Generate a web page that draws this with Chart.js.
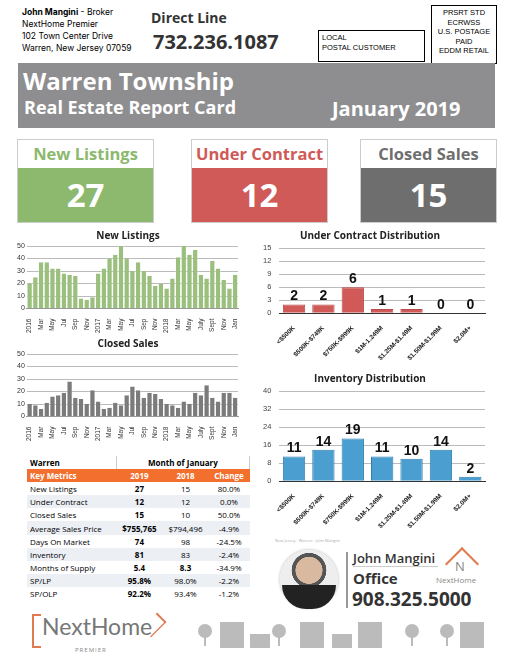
<!DOCTYPE html>
<html><head><meta charset="utf-8">
<script src="https://cdn.jsdelivr.net/npm/chart.js@4.4.1/dist/chart.umd.min.js"></script>
<style>
body{margin:0;width:510px;height:660px;background:#fff;font-family:"Open Sans",sans-serif;position:relative;overflow:hidden}
.a{position:absolute}
.box{border:1px solid #000;font-family:"Liberation Sans",Arial;font-size:7.5px;line-height:9.5px}
.card{position:absolute;top:139px;width:135px;height:82px;border:1px solid #ccc}
.card .t{height:28px;text-align:center;font-weight:700;font-size:16.5px;line-height:28px;background:#fff}
.card .v{height:54px;text-align:center;color:#fff;font-weight:700;font-size:33px;line-height:54px}
table{border-collapse:collapse;font-size:8px;font-family:"Open Sans";width:223px}
td{padding:0 3px;height:13.1px}
td.c{text-align:center}
tr.g td{background:#eceff4}
</style></head><body>
<div class="a" style="left:22px;top:6px;font-size:8.5px;line-height:12px;font-family:'Inter','Liberation Sans'"><b>John Mangini</b> - Broker<br>NextHome Premier<br>102 Town Center Drive<br>Warren, New Jersey 07059</div>
<div class="a" style="left:151px;top:8px;font-size:14px;font-weight:700;color:#333">Direct Line</div>
<div class="a" style="left:153px;top:28px;font-size:20px;font-weight:700;color:#333">732.236.1087</div>
<div class="a box" style="left:318px;top:30px;width:102px;height:28px;padding:2px 0 0 3px">LOCAL<br>POSTAL CUSTOMER</div>
<div class="a box" style="left:431px;top:5px;width:64px;height:55px;text-align:center;padding-top:2px">PRSRT STD<br>ECRWSS<br>U.S. POSTAGE<br>PAID<br>EDDM RETAIL</div>
<div class="a" style="left:18px;top:63px;width:477px;height:65px;background:#8e8e90"></div>
<div class="a" style="left:23px;top:64px;font-size:24px;font-weight:700;color:#fff">Warren Township</div>
<div class="a" style="left:24px;top:95px;font-size:18px;font-weight:700;color:#fff">Real Estate Report Card</div>
<div class="a" style="left:332px;top:95px;font-size:20px;font-weight:700;color:#fff">January 2019</div>
<div class="card" style="left:17px"><div class="t" style="color:#8cb96e">New Listings</div><div class="v" style="background:#8cb96e">27</div></div>
<div class="card" style="left:191px"><div class="t" style="color:#cf5a57">Under Contract</div><div class="v" style="background:#cf5a57">12</div></div>
<div class="card" style="left:360px"><div class="t" style="color:#6e6e6e">Closed Sales</div><div class="v" style="background:#6e6e6e">15</div></div>

<div class="a" style="left:15px;top:230px;width:230px;height:105px"><canvas id="c1"></canvas></div>
<div class="a" style="left:15px;top:338px;width:230px;height:105px"><canvas id="c2"></canvas></div>
<div class="a" style="left:255px;top:230px;width:250px;height:135px"><canvas id="c3"></canvas></div>
<div class="a" style="left:255px;top:373px;width:250px;height:160px"><canvas id="c4"></canvas></div>
<div class="a" style="left:275px;top:538px;font-size:4px;color:#aaa">New Jersey · Warren · John Mangini</div>

<div class="a" style="left:27px;top:456px">
<table>
<tr><td style="font-weight:700;height:13px">Warren</td><td colspan="3" class="c" style="font-weight:700;border-left:1px solid #ccc;border-right:1px solid #ccc">Month of January</td></tr>
<tr style="background:#f26f2e;color:#fff;font-weight:700"><td>Key Metrics</td><td class="c">2019</td><td class="c">2018</td><td class="c">Change</td></tr>
<tr><td>New Listings</td><td class="c"><b>27</b></td><td class="c">15</td><td class="c">80.0%</td></tr>
<tr class="g"><td>Under Contract</td><td class="c"><b>12</b></td><td class="c">12</td><td class="c">0.0%</td></tr>
<tr><td>Closed Sales</td><td class="c"><b>15</b></td><td class="c">10</td><td class="c">50.0%</td></tr>
<tr class="g"><td>Average Sales Price</td><td class="c"><b>$755,765</b></td><td class="c">$794,496</td><td class="c">-4.9%</td></tr>
<tr><td>Days On Market</td><td class="c"><b>74</b></td><td class="c">98</td><td class="c">-24.5%</td></tr>
<tr class="g"><td>Inventory</td><td class="c"><b>81</b></td><td class="c">83</td><td class="c">-2.4%</td></tr>
<tr><td>Months of Supply</td><td class="c"><b>5.4</b></td><td class="c"><b>8.3</b></td><td class="c">-34.9%</td></tr>
<tr class="g"><td>SP/LP</td><td class="c"><b>95.8%</b></td><td class="c">98.0%</td><td class="c">-2.2%</td></tr>
<tr><td>SP/OLP</td><td class="c"><b>92.2%</b></td><td class="c">93.4%</td><td class="c">-1.2%</td></tr>
</table></div>

<div class="a" style="left:280px;top:550px;width:58px;height:58px;border-radius:50%;background:radial-gradient(circle at 50% 35%,#d9b9a0 0 28%,#555 29% 36%,#eee 37%);box-shadow:0 0 3px #aaa"></div>
<div class="a" style="left:282px;top:585px;width:54px;height:24px;border-radius:0 0 27px 27px;background:#222"></div>
<div class="a" style="left:346px;top:552px;width:2px;height:56px;background:#999"></div>
<div class="a" style="left:353px;top:549px;font-size:13px;font-weight:600;color:#333">John Mangini</div>
<div class="a" style="left:353px;top:566px;width:85px;height:1px;background:#ccc"></div>
<div class="a" style="left:353px;top:568px;font-size:15px;font-weight:700;color:#333">Office</div>
<div class="a" style="left:352px;top:586px;font-size:19px;font-weight:700;color:#333">908.325.5000</div>
<div class="a" style="width:22px;height:22px;border-top:2px solid #e07a4f;border-left:2px solid #e07a4f;transform:rotate(45deg);top:552px;left:450px"></div>
<div class="a" style="left:455px;top:557px;font-size:13px;color:#888">N</div>
<div class="a" style="left:436px;top:574px;font-size:8px;color:#888">NextHome</div>

<div class="a" style="left:32px;top:614px;width:7px;height:30px;border:2px solid #e07a4f;border-right:none"></div>
<div class="a" style="left:42px;top:612px;font-size:23px;color:#777;font-family:'Lato'">NextHome</div>
<div class="a" style="left:143px;top:614px;width:20px;height:20px;border-top:2px solid #e07a4f;border-right:2px solid #e07a4f;transform:rotate(45deg) scaleX(0.6)"></div>
<div class="a" style="left:75px;top:646px;font-size:6px;color:#888;letter-spacing:1px">PREMIER</div>
<div id="houses"></div>

<script>
const months=["2016","","Mar","","May","","Jul","","Sep","","Nov","","2017","","Mar","","May","","Jul","","Sep","","Nov","","2018","","Mar","","May","","July","","Sept","","Nov","","Jan"];
const newListings=[20,25,37,37,32,32,28,27,26,8,7,9,28,32,40,43,50,40,30,37,30,26,18,20,16,24,41,50,43,47,27,24,38,32,23,16,27];
const closedSales=[10,9,6,11,16,17,19,28,15,14,10,21,12,6,7,11,9,17,24,21,15,19,18,14,10,9,7,12,10,19,17,25,15,12,19,19,15];
const priceRanges=["<$500K","$500K-$749K","$750K-$999K","$1M-1.249M","$1.25M-$1.49M","$1.50M-$1.99M","$2.0M+"];
const underContract=[2,2,6,1,1,0,0];
const inventory=[11,14,19,11,10,14,2];

const F="'Open Sans'";
function small(id,data,color,title){
 new Chart(document.getElementById(id),{type:'bar',
  data:{labels:months,datasets:[{data,backgroundColor:color,borderColor:'#fff',borderWidth:{left:0.5,right:0.5},categoryPercentage:1,barPercentage:0.92}]},
  options:{responsive:true,maintainAspectRatio:false,animation:false,
   layout:{padding:{right:4}},
   plugins:{legend:{display:false},title:{display:true,text:title,font:{family:F,size:10,weight:'bold'},color:'#222',padding:{top:0,bottom:4}}},
   scales:{y:{min:0,max:50,ticks:{stepSize:10,font:{size:7},color:'#333',padding:2},border:{display:false},grid:{color:'#bbb',drawTicks:false}},
    x:{ticks:{autoSkip:false,maxRotation:90,minRotation:90,font:{size:6.5},color:'#333',padding:2},grid:{display:false},border:{color:'#999'}}}}});
}
small('c1',newListings,'#9bc07e','New Listings');
small('c2',closedSales,'#7b7b7b','Closed Sales');

const valLabels={id:'vl',afterDatasetsDraw(ch){const c=ch.ctx;const m=ch.getDatasetMeta(0);c.save();c.font="bold 14px 'Liberation Sans'";c.fillStyle='#111';c.textAlign='center';c.textBaseline='bottom';
 m.data.forEach((b,i)=>c.fillText(ch.data.datasets[0].data[i],b.x,b.y-1));c.restore();}};
function dist(id,data,color,title,max,step){
 new Chart(document.getElementById(id),{type:'bar',
  data:{labels:priceRanges,datasets:[{data,backgroundColor:color,borderColor:color==='#cf5a57'?'#b84a47':'#2e7fb0',borderWidth:1,categoryPercentage:0.8,barPercentage:0.95}]},
  options:{responsive:true,maintainAspectRatio:false,animation:false,layout:{padding:{right:20}},
   plugins:{legend:{display:false},title:{display:true,text:title,font:{family:F,size:10,weight:'bold'},color:'#222',padding:{top:0,bottom:6}}},
   scales:{y:{min:0,max:max,ticks:{stepSize:step,font:{size:7.5},color:'#444',padding:8},border:{display:false},grid:{color:'#bbb',drawTicks:false}},
    x:{ticks:{autoSkip:false,maxRotation:45,minRotation:45,font:{size:6.5,weight:'bold'},color:'#222'},grid:{display:false},border:{color:'#333'}}}},
  plugins:[valLabels]});
}
dist('c3',underContract,'#cf5a57','Under Contract Distribution',15,3);
dist('c4',inventory,'#4a9fd0','Inventory Distribution',40,8);

const h=document.getElementById('houses');
[[198,'t'],[220,'h'],[250,'s'],[272,'t'],[300,'h'],[332,'s'],[358,'h'],[405,'t'],[440,'t'],[460,'h']].forEach(([x,k])=>{
 const d=document.createElement('div');d.className='a';
 if(k==='t'){d.style.cssText=`left:${x}px;top:624px;width:14px;height:14px;border-radius:50%;background:#bbb`;const s=document.createElement('div');s.className='a';s.style.cssText=`left:${x+6}px;top:636px;width:2px;height:10px;background:#bbb`;h.appendChild(s);}
 else if(k==='h'){d.style.cssText=`left:${x}px;top:622px;width:24px;height:26px;background:#bbb`;}
 else{d.style.cssText=`left:${x}px;top:634px;width:20px;height:14px;background:#bbb`;}
 h.appendChild(d);});
</script>
</body></html>
